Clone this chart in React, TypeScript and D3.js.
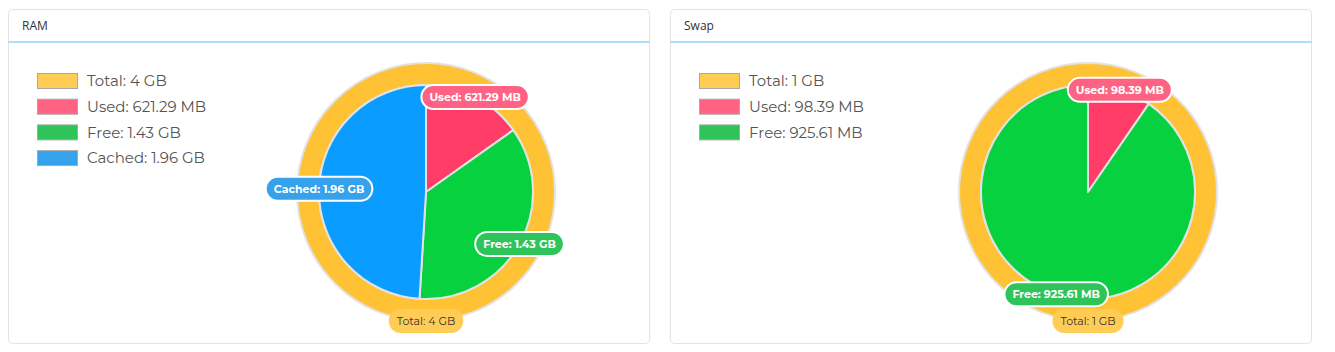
import React from 'react'
import * as d3 from 'd3'

// RAM panel
const RAM_TOTAL = ['Total: 4 GB']
const RAM_LABELS = ['Used: 621.29 MB', 'Free: 1.43 GB', 'Cached: 1.96 GB']
const RAM_VALUES = [621.29, 1464.32, 2007.04] // MB

// Swap panel
const SWAP_TOTAL = ['Total: 1 GB']
const SWAP_LABELS = ['Used: 98.39 MB', 'Free: 925.61 MB']
const SWAP_VALUES = [98.39, 925.61]

const SLICE = ['#ff3d67', '#08d140', '#0a9cff']
const LABEL_BG = ['#ff6384', '#2fc45a', '#36a2eb']
const TOTAL_RING = '#ffc234'
const TOTAL_BG = '#ffcd56'
const FONT = 'Montserrat, "DejaVu Sans", sans-serif'

let ctx: CanvasRenderingContext2D | null = null
function measure(text: string, font: string) {
  if (!ctx) ctx = document.createElement('canvas').getContext('2d')
  ctx!.font = font
  return ctx!.measureText(text).width
}

function Pill({ x, y, text, bg, color, bold, border }: any) {
  const font = `${bold ? 'bold ' : ''}11px ${FONT}`
  const w = measure(text, font) + 16
  const h = 24
  return (
    <g transform={`translate(${x},${y})`}>
      <rect x={-w / 2} y={-h / 2} width={w} height={h} rx={12}
        fill={bg} stroke={border ? '#fff' : 'none'} strokeWidth={2} />
      <text textAnchor="middle" dy="0.35em" fontSize={11} fontWeight={bold ? 700 : 400}
        fontFamily={FONT} fill={color}>{text}</text>
    </g>
  )
}

function Panel({ x, title, totalLabel, labels, values, width }: any) {
  const H = 335
  const cx = width / 2 + 97
  const cy = 183
  const rIn = 107
  const rOut = 129

  const pie = d3.pie<number>().sort(null).value(d => d)
  const arcs = pie(values)
  const arc = d3.arc<d3.PieArcDatum<number>>().innerRadius(0).outerRadius(rIn)
  const ring = d3.arc<any>().innerRadius(rIn).outerRadius(rOut)
  const ringArcs = pie([1])

  const legendItems = [{ t: totalLabel[0], c: TOTAL_BG }, ...labels.map((t: string, i: number) => ({ t, c: LABEL_BG[i] }))]

  const labelPos = (a: any, r: number) => {
    const m = (a.startAngle + a.endAngle) / 2
    return [cx + r * Math.sin(m), cy - r * Math.cos(m)]
  }

  return (
    <g transform={`translate(${x},1)`}>
      <rect x={0.5} y={0.5} width={width - 1} height={H - 1} rx={4} fill="#fff" stroke="#e3e3e3" />
      <text x={14} y={17} dy="0.35em" fontSize={12} fontFamily='"Open Sans", sans-serif' fill="#333">{title}</text>
      <line x1={0.5} x2={width - 0.5} y1={33} y2={33} stroke="#5bc0f2" strokeWidth={1.2} />

      {legendItems.map((d: any, i: number) => (
        <g key={i} transform={`translate(29,${64 + i * 25.7})`}>
          <rect x={0.5} y={0.5} width={40} height={15} fill={d.c} stroke="#a8a8a8" strokeWidth={1} />
          <text x={50} y={8} dy="0.35em" fontSize={15} fontFamily={FONT} fill="#555">{d.t}</text>
        </g>
      ))}

      {ringArcs.map((a, i) => (
        <path key={'r' + i} d={ring(a) as string} transform={`translate(${cx},${cy})`}
          fill={TOTAL_RING} stroke="#e2e2e2" strokeWidth={2} />
      ))}
      {arcs.map((a, i) => (
        <path key={i} d={arc(a) as string} transform={`translate(${cx},${cy})`}
          fill={SLICE[i]} stroke="#e2e2e2" strokeWidth={2} strokeLinejoin="round" />
      ))}

      {arcs.map((a, i) => {
        const [px, py] = labelPos(a, rIn)
        return <Pill key={'l' + i} x={px} y={py} text={labels[i]} bg={LABEL_BG[i]} color="#fff" bold border />
      })}
      {ringArcs.map((a, i) => {
        const [px, py] = labelPos(a, rOut)
        return <Pill key={'t' + i} x={px} y={py} text={totalLabel[i]} bg={TOTAL_BG} color="#333" />
      })}
    </g>
  )
}

export default function App() {
  return (
    <svg width={1320} height={340} style={{ display: 'block' }}>
      <Panel x={0} width={642} title="RAM" totalLabel={RAM_TOTAL} labels={RAM_LABELS} values={RAM_VALUES} />
      <Panel x={662} width={642} title="Swap" totalLabel={SWAP_TOTAL} labels={SWAP_LABELS} values={SWAP_VALUES} />
    </svg>
  )
}
